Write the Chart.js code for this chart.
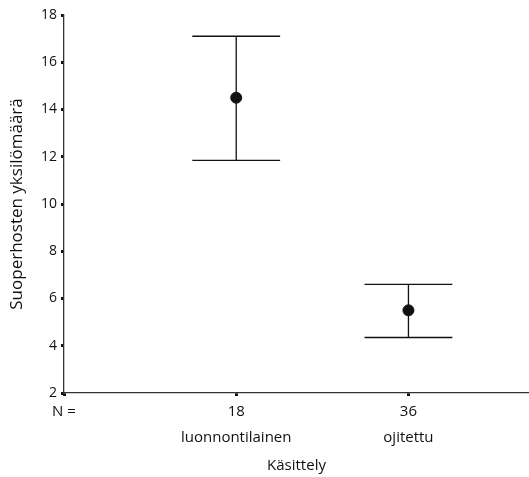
<!DOCTYPE html>
<html>
<head>
<meta charset="utf-8">
<script src="https://cdn.jsdelivr.net/npm/chart.js@4/dist/chart.umd.min.js"></script>
<style>
  html, body { margin: 0; padding: 0; background: #fff; }
  #wrap { width: 529px; height: 477px; }
</style>
</head>
<body>
<div id="wrap"><canvas id="c" width="529" height="477"></canvas></div>
<script>
// Treatment groups and their sample sizes
const categories = ['luonnontilainen', 'ojitettu'];
const sampleSizes = [18, 36];
// Mean count with the upper and lower ends of its interval
const means = [14.5, 5.5];
const upper = [17.1, 6.6];
const lower = [11.85, 4.35];
const yTicks = [2, 4, 6, 8, 10, 12, 14, 16, 18];

const FONT = '"Open Sans", "DejaVu Sans", sans-serif';
const INK = '#111';
const CAP_HALF = 0.255;

// Draws the interval whiskers with caps for each group
const errorBars = {
  id: 'errorBars',
  beforeDatasetsDraw(chart) {
    const { ctx, scales: { x, y } } = chart;
    ctx.save();
    ctx.strokeStyle = INK;
    ctx.lineWidth = 1.3;
    means.forEach((m, i) => {
      const cx = x.getPixelForValue(i + 1);
      const yt = y.getPixelForValue(upper[i]);
      const yb = y.getPixelForValue(lower[i]);
      const l = x.getPixelForValue(i + 1 - CAP_HALF);
      const r = x.getPixelForValue(i + 1 + CAP_HALF);
      ctx.beginPath();
      ctx.moveTo(cx, yt); ctx.lineTo(cx, yb);
      ctx.moveTo(l, yt); ctx.lineTo(r, yt);
      ctx.moveTo(l, yb); ctx.lineTo(r, yb);
      ctx.stroke();
    });
    ctx.restore();
  }
};

new Chart(document.getElementById('c'), {
  type: 'scatter',
  data: {
    datasets: [{
      data: means.map((m, i) => ({ x: i + 1, y: m })),
      pointRadius: 5.5,
      pointBackgroundColor: '#111',
      pointBorderColor: '#111',
      pointBorderWidth: 1
    }]
  },
  options: {
    responsive: false,
    animation: false,
    layout: { autoPadding: false, padding: { top: 15, right: 0, left: 0, bottom: 0 } },
    plugins: { legend: { display: false }, tooltip: { enabled: false } },
    scales: {
      x: {
        type: 'linear',
        min: 0,
        max: 2.7,
        afterBuildTicks(axis) {
          axis.ticks = [{ value: 0 }, { value: 1 }, { value: 2 }];
        },
        afterFit(axis) {
          axis.height = 84;
          axis.paddingLeft = 0;
          axis.paddingRight = 0;
        },
        ticks: {
          autoSkip: false,
          maxRotation: 0,
          color: INK,
          font: { family: FONT, size: 15, lineHeight: 26 / 15 },
          padding: 2.5,
          callback(v) {
            if (v === 0) return ['N =', ''];
            return [String(sampleSizes[v - 1]), categories[v - 1]];
          }
        },
        grid: {
          drawOnChartArea: false,
          drawTicks: true,
          tickLength: 3,
          tickWidth: 3,
          tickColor: INK
        },
        border: { color: '#333', width: 1.3 },
        title: {
          display: true,
          text: 'Käsittely',
          color: INK,
          font: { family: FONT, size: 15 },
          padding: { top: 0, bottom: 2 }
        }
      },
      y: {
        min: 2,
        max: 18,
        afterBuildTicks(axis) {
          axis.ticks = yTicks.map(v => ({ value: v }));
        },
        afterFit(axis) {
          axis.width = 64;
          axis.paddingTop = 0;
          axis.paddingBottom = 0;
        },
        ticks: {
          color: INK,
          font: { family: FONT, size: 14 },
          padding: 4
        },
        grid: {
          drawOnChartArea: false,
          drawTicks: true,
          tickLength: 3,
          tickWidth: 3,
          tickColor: INK
        },
        border: { color: '#333', width: 1.3 },
        title: {
          display: true,
          text: 'Suoperhosten yksilömäärä',
          color: INK,
          font: { family: FONT, size: 17 },
          padding: { top: 7, bottom: 0 }
        }
      }
    }
  },
  plugins: [errorBars]
});
</script>
</body>
</html>
